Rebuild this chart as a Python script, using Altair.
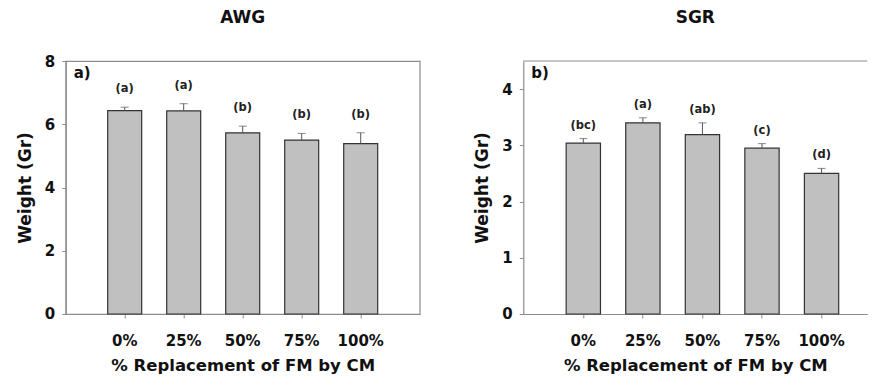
import altair as alt
import pandas as pd

categories = ["0%", "25%", "50%", "75%", "100%"]

awg_mean = [6.43, 6.42, 5.73, 5.50, 5.39]
awg_se = [0.11, 0.23, 0.21, 0.21, 0.34]
awg_letters = ["(a)", "(a)", "(b)", "(b)", "(b)"]

sgr_mean = [3.04, 3.40, 3.19, 2.95, 2.50]
sgr_se = [0.08, 0.09, 0.21, 0.08, 0.09]
sgr_letters = ["(bc)", "(a)", "(ab)", "(c)", "(d)"]

FONT = "DejaVu Sans"
GRAY = "#8c8c8c"


def panel(title, means, ses, letters, ymax, yticks, tag, width, letter_dy,
          title_offset, xscale, open_right=False):
    df = pd.DataFrame({
        "cat": categories,
        "mean": means,
        "top": [m + s for m, s in zip(means, ses)],
        "letter": letters,
    })
    base = alt.Chart(df)
    xenc = alt.X(
        "cat:N", sort=categories, scale=xscale,
        axis=alt.Axis(title="% Replacement of FM by CM", labelAngle=0,
                      labelPadding=15.5, tickSize=4, titlePadding=9.5,
                      titleFontSize=16.5),
    )
    xs = alt.X("cat:N", sort=categories)
    y = alt.Y(
        "mean:Q",
        scale=alt.Scale(domain=[0, ymax], nice=False),
        axis=alt.Axis(title="Weight (Gr)", values=yticks, format="d",
                      tickSize=4, labelPadding=7, titlePadding=10, grid=False),
    )
    bars = base.mark_bar(fill="#c0c0c0", stroke="#333333", strokeWidth=1.2).encode(x=xenc, y=y)
    err = base.mark_rule(color="#555555", strokeWidth=1).encode(x=xs, y="mean:Q", y2="top:Q")
    cap = base.mark_tick(color="#555555", size=8, thickness=1).encode(x=xs, y="top:Q")
    lab = base.mark_text(font=FONT, fontSize=11.5, fontWeight="bold", color="#222222",
                         baseline="middle", dy=letter_dy).encode(
        x=xs, y="top:Q", text="letter:N")
    tagtext = alt.Chart(pd.DataFrame({"t": [tag]})).mark_text(
        font=FONT, fontSize=15, fontWeight="bold", align="left", baseline="middle",
        color="#111111").encode(x=alt.value(8), y=alt.value(12), text="t:N")
    layers = [bars, err, cap, lab, tagtext]
    props = dict(
        width=width, height=253,
        title=alt.TitleParams(title, font=FONT, fontSize=17, fontWeight="bold",
                              anchor="middle", offset=title_offset, color="#111111"),
    )
    if open_right:
        top_line = alt.Chart(pd.DataFrame({"t": [0]})).mark_rule(
            color=GRAY, strokeWidth=1.2).encode(
            x=alt.value(0), x2=alt.value(width), y=alt.value(0))
        layers.append(top_line)
        props["view"] = alt.ViewBackground(strokeOpacity=0)
    return alt.layer(*layers).properties(**props)


pa = panel("AWG", awg_mean, awg_se, awg_letters, 8, [0, 2, 4, 6, 8], "a)", 354, -18, 27,
           alt.Scale(paddingInner=0.424, paddingOuter=0.712))
pb = panel("SGR", sgr_mean, sgr_se, sgr_letters, 4.5, [0, 1, 2, 3, 4], "b)", 344, -13, 33,
           alt.Scale(paddingInner=0.424, paddingOuter=0.6, align=0.6), open_right=True)

chart = alt.hconcat(pa, pb, spacing=52.6).properties(
    padding={"left": 6.7, "top": 0, "right": 0, "bottom": 0}
).configure_view(
    stroke=GRAY, strokeWidth=1.2
).configure_axis(
    domainColor=GRAY, tickColor=GRAY, domainWidth=1.2,
    labelFont=FONT, labelFontSize=15, labelFontWeight="bold", labelColor="#111111",
    titleFont=FONT, titleFontSize=17, titleFontWeight="bold", titleColor="#111111",
)

chart.save("out.html", embed_options={"renderer": "svg", "actions": False})
